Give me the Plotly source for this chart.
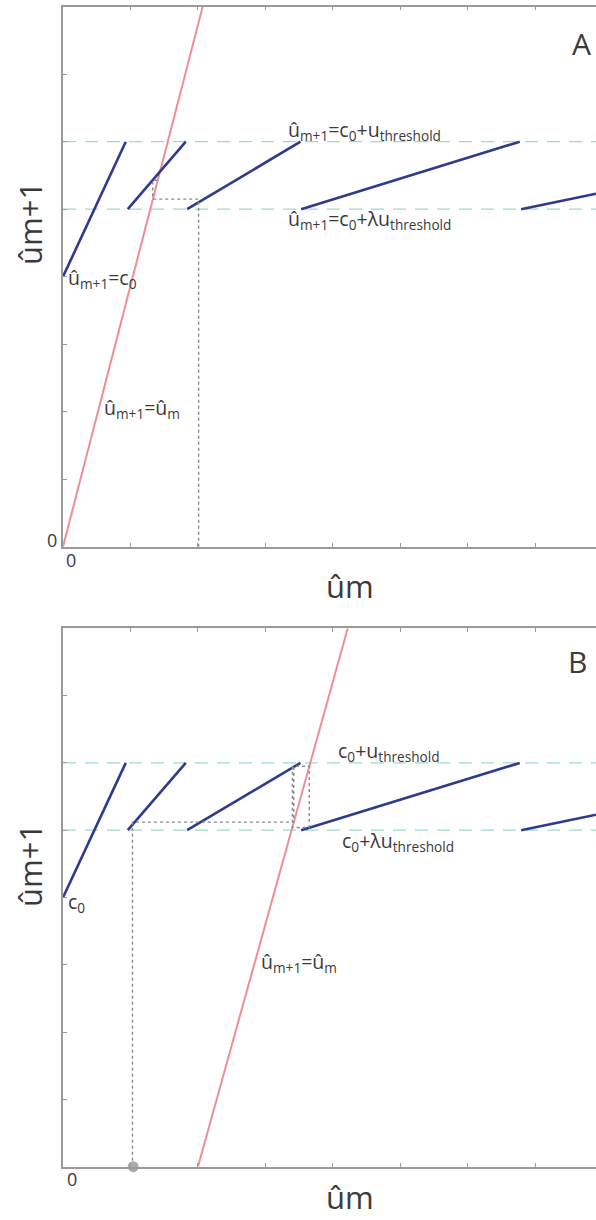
import plotly.graph_objects as go

# ---- data (axis units) ----
c0 = 4.0
upper_level = 6.0   # c0 + u_threshold
lower_level = 5.0   # c0 + lambda*u_threshold
x_max = 7.9
y_max = 8.0

seg_x0 = [0.0, 0.96, 1.84, 3.53, 6.79]
seg_x1 = [0.93, 1.82, 3.52, 6.77, 7.9]
seg_y0 = [4.0, 5.0, 5.0, 5.0, 5.0]
seg_y1 = [6.0, 6.0, 6.0, 6.0, 5.23]

red_a_x = [0.0, 2.07]
red_a_y = [0.0, 8.0]
red_b_x = [2.0, 4.22]
red_b_y = [0.0, 8.0]

cob_a_x = [2.01, 2.01, 1.33, 1.33, 1.40]
cob_a_y = [0.0, 5.15, 5.15, 5.43, 5.43]
cob_b_x = [1.03, 1.03, 3.42, 3.42, 3.65, 3.65, 3.40, 3.40]
cob_b_y = [0.0, 5.12, 5.12, 5.95, 5.95, 5.04, 5.04, 5.94]

start_b = [1.04]
start_b_y = [0.0]

tick_vals = [0, 1, 2, 3, 4, 5, 6, 7, 8]

BLUE = "#2e3a8c"
RED = "#ef8f93"
TEAL = "#9fd9cc"
GRAY = "#8a8a8a"
AXC = "#9a9a9a"
TXT = "#3a3a3a"
FONT = "Open Sans"

fig = go.Figure()

def add_panel(xa, ya, red_x, red_y, cob_x, cob_y):
    for lvl in (upper_level, lower_level):
        fig.add_trace(go.Scatter(x=[0, x_max], y=[lvl, lvl], mode="lines",
                                 line=dict(color=TEAL, width=1.3, dash="13px,9px"),
                                 xaxis=xa, yaxis=ya, showlegend=False, hoverinfo="skip"))
    fig.add_trace(go.Scatter(x=red_x, y=red_y, mode="lines",
                             line=dict(color=RED, width=2),
                             xaxis=xa, yaxis=ya, showlegend=False, hoverinfo="skip"))
    for a, b, c, d in zip(seg_x0, seg_x1, seg_y0, seg_y1):
        fig.add_trace(go.Scatter(x=[a, b], y=[c, d], mode="lines",
                                 line=dict(color=BLUE, width=2.6),
                                 xaxis=xa, yaxis=ya, showlegend=False, hoverinfo="skip"))
    fig.add_trace(go.Scatter(x=cob_x, y=cob_y, mode="lines",
                             line=dict(color=GRAY, width=1.4, dash="dot"),
                             xaxis=xa, yaxis=ya, showlegend=False, hoverinfo="skip"))

add_panel("x", "y", red_a_x, red_a_y, cob_a_x, cob_a_y)
add_panel("x2", "y2", red_b_x, red_b_y, cob_b_x, cob_b_y)

fig.add_trace(go.Scatter(x=start_b, y=start_b_y, mode="markers",
                         marker=dict(color="#ababab", size=11),
                         xaxis="x2", yaxis="y2", showlegend=False, hoverinfo="skip",
                         cliponaxis=False))

H = 1220.0
L = 63.0
PW = 596.0 - L

def py(px):
    return 1 - px / H

def pxp(px):
    return (px - L) / PW

xcommon = dict(range=[0, x_max], showgrid=False, zeroline=False, showline=True,
               linecolor=AXC, linewidth=1.5, mirror="ticks", ticks="inside",
               ticklen=4, tickcolor=AXC, tickvals=tick_vals, showticklabels=False)
ycommon = dict(range=[0, y_max], showgrid=False, zeroline=False, showline=True,
               linecolor=AXC, linewidth=1.5, mirror=False, ticks="inside",
               ticklen=4, tickcolor=AXC, tickvals=tick_vals, showticklabels=False)

fig.update_layout(
    width=596, height=1220,
    margin=dict(l=63, r=0, t=0, b=0),
    paper_bgcolor="white", plot_bgcolor="white",
    xaxis=dict(domain=[0, 1], anchor="y", **xcommon),
    yaxis=dict(domain=[py(546.7), py(6.7)], anchor="x", **ycommon),
    xaxis2=dict(domain=[0, 1], anchor="y2", **xcommon),
    yaxis2=dict(domain=[py(1166.7), py(628.3)], anchor="x2", **ycommon),
    font=dict(family=FONT, color=TXT),
)

def ann(text, x, y, xref, yref, size=19.5, xanchor="left", yanchor="middle", angle=0):
    fig.add_annotation(text=text, x=x, y=y, xref=xref, yref=yref, showarrow=False,
                       font=dict(size=size, color=TXT, family=FONT),
                       xanchor=xanchor, yanchor=yanchor, textangle=angle)

# Panel A labels
ann("û<sub>m+1</sub>=c<sub>0</sub>+u<sub>threshold</sub>", 3.30, 6.17, "x", "y")
ann("û<sub>m+1</sub>=c<sub>0</sub>+λu<sub>threshold</sub>", 3.30, 4.85, "x", "y")
ann("û<sub>m+1</sub>=c<sub>0</sub>", 0.04, 3.97, "x", "y")
ann("û<sub>m+1</sub>=û<sub>m</sub>", 0.58, 2.05, "x", "y")
ann("A", 7.69, 7.45, "x", "y", size=30, xanchor="center")
ann("0", pxp(52), py(540), "paper", "paper", size=18, xanchor="center")
ann("0", pxp(71), py(560), "paper", "paper", size=18, xanchor="center")
ann("ûm", pxp(350), py(586), "paper", "paper", size=31, xanchor="center")
ann("ûm+1", pxp(30), py(224), "paper", "paper", size=31, xanchor="center", angle=-90)

# Panel B labels
ann("c<sub>0</sub>+u<sub>threshold</sub>", 4.05, 6.17, "x2", "y2")
ann("c<sub>0</sub>+λu<sub>threshold</sub>", 4.10, 4.83, "x2", "y2")
ann("c<sub>0</sub>", 0.04, 3.92, "x2", "y2")
ann("û<sub>m+1</sub>=û<sub>m</sub>", 2.90, 3.04, "x2", "y2")
ann("B", 7.63, 7.5, "x2", "y2", size=30, xanchor="center")
ann("0", pxp(72), py(1179), "paper", "paper", size=18, xanchor="center")
ann("ûm", pxp(350), py(1197), "paper", "paper", size=31, xanchor="center")
ann("ûm+1", pxp(30), py(866), "paper", "paper", size=31, xanchor="center", angle=-90)

fig.write_html("out.html", config={"displayModeBar": False},
               post_script="document.body.style.margin='0';document.body.style.padding='0';document.body.style.overflow='hidden';")
